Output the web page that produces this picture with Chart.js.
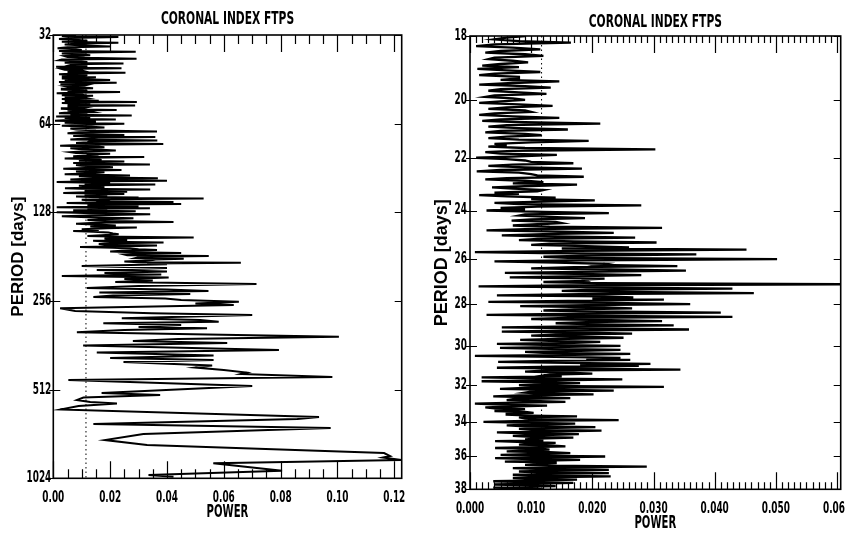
<!DOCTYPE html>
<html><head><meta charset="utf-8">
<script src="https://cdn.jsdelivr.net/npm/chart.js@4.4.1/dist/chart.umd.min.js"></script>
<style>
html,body{margin:0;padding:0;background:#fff;}
#wrap{position:relative;width:845px;height:538px;overflow:hidden;background:#fff;}
.box{position:absolute;top:0;height:538px;}
#b1{left:0;width:420px;} #b2{left:420px;width:425px;}
</style></head><body>
<div id="wrap"><div class="box" id="b1"><canvas id="c1"></canvas></div><div class="box" id="b2"><canvas id="c2"></canvas></div></div>
<script>
const chartTitle = 'CORONAL INDEX FTPS';
const xTitle = 'POWER';
const yTitle = 'PERIOD [days]';

const leftPeriodTicks = [32, 64, 128, 256, 512, 1024];
const leftPowerTicks = [0, 0.02, 0.04, 0.06, 0.08, 0.10, 0.12];
const leftPowerTickLabels = ['0.00', '0.02', '0.04', '0.06', '0.08', '0.10', '0.12'];
const rightPeriodTicks = [18, 20, 22, 24, 26, 28, 30, 32, 34, 36, 38];
const rightPowerTicks = [0, 0.01, 0.02, 0.03, 0.04, 0.05, 0.06];
const rightPowerTickLabels = ['0.000', '0.010', '0.020', '0.030', '0.040', '0.050', '0.060'];

const leftThreshold = 0.0115;
const rightThreshold = 0.0117;

const leftPeriods = [
 32,32.25,32.5,32.75,33,33.25,33.5,33.75,34,34.25,34.5,34.75,35,35.25,35.5,35.75,36,36.25,36.5,36.75,37,37.25,37.5,37.75,38,38.25,38.5,38.75,39,39.25,39.5,39.75,
 40,40.25,40.5,40.75,41,41.25,41.5,41.75,42,42.25,42.5,42.75,43,43.25,43.5,43.75,44,44.25,44.5,44.75,45,45.25,45.5,45.75,46,46.25,46.5,46.75,47,47.25,47.5,47.75,
 48,48.25,48.5,48.75,49,49.25,49.5,49.75,50,50.25,50.5,50.75,51,51.25,51.5,51.75,52,52.25,52.5,52.75,53,53.25,53.5,53.75,54,54.25,54.5,54.75,55,55.25,55.5,55.75,
 56,56.25,56.5,56.75,57,57.25,57.5,57.75,58,58.25,58.5,58.75,59,59.25,59.5,59.75,60,60.25,60.5,60.75,61,61.25,61.5,61.75,62,62.25,62.5,62.75,63,63.25,63.5,63.75,64,
 64.5,65,65.5,66,66.5,67,67.5,68,68.5,69,69.5,70,70.5,71,71.5,72,72.5,73,73.5,74,74.5,75,75.5,76,76.5,77,77.5,78,78.5,79,79.5,80,
 80.5,81,81.5,82,82.5,83,83.5,84,84.5,85,85.5,86,86.5,87,87.5,88,88.5,89,89.5,90,90.5,91,91.5,92,92.5,93,93.5,94,94.5,95,95.5,96,
 96.5,97,97.5,98,98.5,99,99.5,100,100.5,101,101.5,102,102.5,103,103.5,104,104.5,105,105.5,106,106.5,107,107.5,108,108.5,109,109.5,110,110.5,111,111.5,112,
 112.5,113,113.5,114,114.5,115,115.5,116,116.5,117,117.5,118,118.5,119,119.5,120,120.5,121,121.5,122,122.5,123,123.5,124,124.5,125,125.5,126,126.5,127,127.5,128,
 129,130,131,132,133,134,135,136,137,138,139,140,141,142,143,144,145,146,147,148,149,150,151,152,153,154,155,156,157,158,159,160,
 161,162,163,164,165,166,167,168,169,170,171,172,173,174,175,176,177,178,179,180,181,182,183,184,185,186,187,188,189,190,191,192,
 194.8,197.9,201.0,203.3,205.7,208.2,210.6,213.1,215.6,218.2,220.7,224.2,227.7,231.3,234.0,236.8,239.6,242.4,245.3,248.2,251.1,254.1,257.5,261.0,264.2,271.1,276.9,282.0,285.7,293.2,297.1,301.1,304.9,309.0,313.8,317.0,321.2,327.1,338.6,344.7,350.1,355.6,362.7,375.6,383.0,392.1,399.8,406.1,412.5,424.0,430.7,439.2,447.9,453.2,464.0,474.9,497.8,525.8,534.0,544.6,555.4,564.1,570.7,582.0,598.2,634.3,644.3,670.0,691.2,724.3,759.3,789.5,840.5,860.4,870.6,887.8,911.0,965.4,998.0,1011.5
];
const leftPower = [
 0.008,0.003,0.0229,0.006,0.002,0.009,0.012,0.003,0.0229,0.007,0.004,0.011,0.020,0.005,0.0015,0.008,0.010,0.002,0.029,0.006,0.003,0.010,0.013,0.004,0.005,0.011,0.0293,0.003,0.002,0.008,0.012,0.004,
 0.0247,0.007,0.006,0.012,0.001,0.006,0.024,0.003,0.004,0.010,0.011,0.005,0.0254,0.008,0.002,0.012,0.009,0.003,0.015,0.006,0.003,0.011,0.020,0.004,0.007,0.002,0.0223,0.008,0.0025,0.012,0.011,0.004,
 0.005,0.010,0.014,0.003,0.003,0.009,0.012,0.005,0.0235,0.007,0.0012,0.009,0.010,0.003,0.014,0.006,0.004,0.011,0.012,0.003,0.006,0.010,0.016,0.004,0.0294,0.008,0.003,0.011,0.013,0.005,0.0288,0.007,
 0.005,0.012,0.011,0.003,0.003,0.009,0.0223,0.005,0.007,0.013,0.014,0.004,0.002,0.010,0.012,0.006,0.0276,0.008,0.001,0.011,0.013,0.004,0.008,0.012,0.022,0.005,0.0006,0.010,0.015,0.006,0.004,0.012,0.025,
 0.010,0.003,0.012,0.018,0.006,0.008,0.015,0.0365,0.009,0.005,0.014,0.025,0.007,0.0359,0.016,0.010,0.006,0.0366,0.013,0.012,0.008,0.0387,0.011,0.0024,0.015,0.018,0.006,0.009,0.017,0.022,0.010,0.006,
 0.008,0.020,0.013,0.014,0.007,0.032,0.012,0.004,0.015,0.017,0.009,0.025,0.014,0.007,0.016,0.034,0.008,0.010,0.017,0.021,0.011,0.0035,0.013,0.024,0.010,0.008,0.018,0.016,0.012,0.004,0.015,0.027,
 0.009,0.012,0.018,0.0368,0.012,0.006,0.015,0.040,0.010,0.0012,0.014,0.020,0.011,0.0359,0.016,0.009,0.012,0.018,0.015,0.0041,0.010,0.0341,0.018,0.011,0.014,0.026,0.012,0.0035,0.016,0.025,0.011,0.014,
 0.019,0.008,0.013,0.030,0.016,0.0529,0.018,0.010,0.012,0.020,0.015,0.0423,0.019,0.0047,0.013,0.045,0.016,0.012,0.020,0.030,0.014,0.0012,0.017,0.034,0.012,0.016,0.019,0.007,0.015,0.029,0.018,0.0012,
 0.014,0.0341,0.016,0.003,0.012,0.0282,0.018,0.012,0.020,0.0423,0.015,0.008,0.017,0.022,0.013,0.0294,0.019,0.010,0.016,0.007,0.014,0.0194,0.021,0.023,0.017,0.012,0.024,0.0494,0.018,0.020,0.026,0.014,
 0.020,0.0388,0.022,0.016,0.018,0.0365,0.027,0.0094,0.021,0.027,0.030,0.0365,0.024,0.020,0.028,0.045,0.032,0.025,0.026,0.0547,0.034,0.030,0.029,0.0459,0.036,0.035,0.031,0.025,0.030,0.066,0.033,0.040,
 0.010,0.040,0.0153,0.040,0.018,0.038,0.003,0.0406,0.025,0.035,0.0218,0.0715,0.030,0.0118,0.040,0.0546,0.0162,0.0482,0.021,0.0141,0.0394,0.045,0.0653,0.050,0.0635,0.0024,0.0077,0.0347,0.070,0.0241,0.0517,0.0582,0.0176,0.045,0.030,0.0541,0.025,0.0083,0.1005,0.044,0.028,0.0612,0.0105,0.0794,0.0153,0.0564,0.020,0.0564,0.0247,0.0559,0.050,0.060,0.068,0.066,0.0982,0.0053,0.070,0.017,0.0376,0.0106,0.0083,0.013,0.0224,0.0089,0.0024,0.0935,0.0859,0.0141,0.0976,0.0317,0.0182,0.033,0.1164,0.1185,0.116,0.1225,0.0563,0.0805,0.0335,0.0423
];

const rightPeriods = [
 18,18.05,18.1,18.15,18.2,18.25,18.3,18.35,18.4,18.45,18.5,18.55,18.6,18.65,18.7,18.75,18.8,18.85,18.9,18.95,
 19,19.05,19.1,19.15,19.2,19.25,19.3,19.35,19.4,19.45,19.5,19.55,19.6,19.65,19.7,19.75,19.8,19.85,19.9,19.95,
 20,20.05,20.1,20.15,20.2,20.25,20.3,20.35,20.4,20.45,20.5,20.55,20.6,20.65,20.7,20.75,20.8,20.85,20.9,20.95,
 21,21.05,21.1,21.15,21.2,21.25,21.3,21.35,21.4,21.45,21.5,21.55,21.6,21.65,21.7,21.75,21.8,21.85,21.9,21.95,
 22,22.05,22.1,22.15,22.2,22.25,22.3,22.35,22.4,22.45,22.5,22.55,22.6,22.65,22.7,22.75,22.8,22.85,22.9,22.95,
 23,23.05,23.1,23.15,23.2,23.25,23.3,23.35,23.4,23.45,23.5,23.55,23.6,23.65,23.7,23.75,23.8,23.85,23.9,23.95,
 24,24.05,24.1,24.15,24.2,24.25,24.3,24.35,24.4,24.45,24.5,24.55,24.6,24.65,24.7,24.75,24.8,24.85,24.9,24.95,
 25,25.05,25.1,25.15,25.2,25.25,25.3,25.35,25.4,25.45,25.5,25.55,25.6,25.65,25.7,25.75,25.8,25.85,25.9,25.95,
 26,26.05,26.1,26.15,26.2,26.25,26.3,26.35,26.4,26.45,26.5,26.55,26.6,26.65,26.7,26.75,26.8,26.85,26.9,26.95,
 27,27.05,27.1,27.15,27.2,27.25,27.3,27.35,27.4,27.45,27.5,27.55,27.6,27.65,27.7,27.75,27.8,27.85,27.9,27.95,
 28,28.05,28.1,28.15,28.2,28.25,28.3,28.35,28.4,28.45,28.5,28.55,28.6,28.65,28.7,28.75,28.8,28.85,28.9,28.95,
 29,29.05,29.1,29.15,29.2,29.25,29.3,29.35,29.4,29.45,29.5,29.55,29.6,29.65,29.7,29.75,29.8,29.85,29.9,29.95,
 30,30.05,30.1,30.15,30.2,30.25,30.3,30.35,30.4,30.45,30.5,30.55,30.6,30.65,30.7,30.75,30.8,30.85,30.9,30.95,
 31,31.05,31.1,31.15,31.2,31.25,31.3,31.35,31.4,31.45,31.5,31.55,31.6,31.65,31.7,31.75,31.8,31.85,31.9,31.95,
 32,32.05,32.1,32.15,32.2,32.25,32.3,32.35,32.4,32.45,32.5,32.55,32.6,32.65,32.7,32.75,32.8,32.85,32.9,32.95,
 33,33.05,33.1,33.15,33.2,33.25,33.3,33.35,33.4,33.45,33.5,33.55,33.6,33.65,33.7,33.75,33.8,33.85,33.9,33.95,
 34,34.05,34.1,34.15,34.2,34.25,34.3,34.35,34.4,34.45,34.5,34.55,34.6,34.65,34.7,34.75,34.8,34.85,34.9,34.95,
 35,35.05,35.1,35.15,35.2,35.25,35.3,35.35,35.4,35.45,35.5,35.55,35.6,35.65,35.7,35.75,35.8,35.85,35.9,35.95,
 36,36.05,36.1,36.15,36.2,36.25,36.3,36.35,36.4,36.45,36.5,36.55,36.6,36.65,36.7,36.75,36.8,36.85,36.9,36.95,
 37,37.05,37.1,37.15,37.2,37.25,37.3,37.35,37.4,37.45,37.5,37.55,37.6,37.65,37.7,37.75,37.8,37.85,37.9,37.95,
 38
];
const rightPower = [
 0.009,0.006,0.004,0.008,0.0165,0.004,0.001,0.007,0.0115,0.005,0.0025,0.009,0.012,0.004,0.003,0.007,0.0095,0.005,0.002,0.008,
 0.0012,0.006,0.0115,0.004,0.0015,0.008,0.008,0.005,0.0146,0.007,0.0015,0.009,0.0132,0.005,0.003,0.008,0.0125,0.004,0.0025,0.007,
 0.009,0.005,0.0015,0.008,0.0135,0.006,0.003,0.009,0.010,0.004,0.0015,0.007,0.0146,0.005,0.002,0.009,0.0213,0.006,0.003,0.008,
 0.016,0.005,0.0025,0.009,0.0117,0.006,0.003,0.008,0.0194,0.010,0.004,0.006,0.003,0.009,0.0303,0.007,0.0025,0.005,0.0142,0.008,
 0.001,0.006,0.009,0.010,0.0169,0.007,0.003,0.009,0.0183,0.005,0.0011,0.008,0.010,0.011,0.0186,0.006,0.0025,0.009,0.012,0.007,
 0.0175,0.010,0.0036,0.007,0.012,0.011,0.004,0.008,0.0015,0.006,0.014,0.010,0.0204,0.012,0.004,0.008,0.028,0.011,0.005,0.009,
 0.0027,0.012,0.0227,0.009,0.008,0.013,0.0188,0.010,0.0068,0.014,0.015,0.011,0.007,0.013,0.0314,0.009,0.0027,0.015,0.0235,0.012,
 0.0052,0.014,0.027,0.011,0.008,0.017,0.0305,0.013,0.010,0.019,0.026,0.015,0.0452,0.018,0.0008,0.012,0.037,0.020,0.012,0.016,
 0.0502,0.019,0.004,0.014,0.022,0.021,0.0339,0.017,0.010,0.023,0.0353,0.018,0.0057,0.020,0.028,0.016,0.0065,0.022,0.0186,0.019,
 0.012,0.021,0.062,0.016,0.0014,0.024,0.0429,0.019,0.015,0.025,0.0464,0.018,0.0044,0.022,0.0267,0.020,0.0317,0.016,0.003,0.023,
 0.036,0.019,0.0082,0.022,0.0265,0.017,0.012,0.024,0.041,0.018,0.0027,0.021,0.0429,0.016,0.010,0.023,0.0314,0.019,0.014,0.021,
 0.0333,0.017,0.0052,0.020,0.0358,0.015,0.0052,0.019,0.0265,0.014,0.010,0.018,0.0251,0.016,0.0082,0.013,0.0213,0.017,0.0044,0.012,
 0.0246,0.016,0.0049,0.013,0.0246,0.018,0.009,0.012,0.0262,0.017,0.0008,0.014,0.0246,0.019,0.0262,0.013,0.0046,0.016,0.0295,0.018,
 0.0276,0.014,0.0044,0.017,0.0344,0.012,0.009,0.016,0.020,0.013,0.012,0.015,0.0019,0.011,0.0249,0.014,0.0019,0.010,0.018,0.013,
 0.008,0.012,0.0317,0.009,0.0049,0.013,0.0235,0.010,0.009,0.012,0.0202,0.008,0.0038,0.011,0.0164,0.007,0.006,0.010,0.0156,0.006,
 0.0008,0.005,0.0126,0.008,0.0025,0.004,0.009,0.007,0.004,0.009,0.0104,0.006,0.006,0.010,0.0175,0.008,0.009,0.011,0.0243,0.009,
 0.0022,0.008,0.0172,0.011,0.006,0.009,0.0205,0.012,0.008,0.010,0.0215,0.013,0.0044,0.009,0.0178,0.012,0.007,0.010,0.0169,0.011,
 0.009,0.012,0.0041,0.009,0.014,0.011,0.008,0.013,0.0156,0.010,0.0041,0.012,0.013,0.009,0.006,0.013,0.0164,0.011,0.005,0.010,
 0.0221,0.013,0.0041,0.010,0.018,0.012,0.0057,0.014,0.014,0.011,0.009,0.013,0.0289,0.015,0.007,0.012,0.0227,0.014,0.008,0.011,
 0.0227,0.013,0.007,0.011,0.023,0.014,0.007,0.010,0.0175,0.012,0.0038,0.009,0.0169,0.011,0.004,0.010,0.014,0.008,0.0038,0.010,
 0.012
];

const narrow = "'DejaVu Sans Condensed','DejaVu Sans',sans-serif";
const wide = "'Liberation Sans',Arial,sans-serif";
const textSqueeze = 0.66;
const ink = '#000';

function squeezeText(canvas) {
  const ctx = canvas.getContext('2d');
  const orig = ctx.fillText;
  ctx.fillText = function (text, x, y, maxWidth) {
    if (String(this.font).indexOf('Condensed') >= 0) {
      this.save();
      this.translate(x, y);
      this.scale(textSqueeze, 1);
      orig.call(this, text, 0, 0);
      this.restore();
    } else if (maxWidth !== undefined) {
      orig.call(this, text, x, y, maxWidth);
    } else {
      orig.call(this, text, x, y);
    }
  };
}

const frameTicks = {
  id: 'frameTicks',
  afterDatasetsDraw(chart, args, o) {
    const {ctx, chartArea: a} = chart;
    const xs = chart.scales.x, ys = chart.scales.y;
    ctx.save();
    ctx.strokeStyle = ink;
    ctx.lineWidth = 1.2;
    ctx.beginPath();
    const n = Math.round(o.xMax / o.minorStep);
    for (let i = 0; i <= n; i++) {
      const v = i * o.minorStep;
      const r = v / o.majorStep;
      const isMajor = Math.abs(r - Math.round(r)) < 1e-6;
      const len = isMajor ? o.majorLen : o.minorLen;
      const px = Math.round(xs.getPixelForValue(v)) + 0.5;
      if (px > a.right + 0.5) continue;
      ctx.moveTo(px, a.bottom); ctx.lineTo(px, a.bottom - len);
      ctx.moveTo(px, a.top); ctx.lineTo(px, a.top + len);
    }
    for (const v of o.yTicks) {
      const py = Math.round(ys.getPixelForValue(v)) + 0.5;
      ctx.moveTo(a.left - 4, py); ctx.lineTo(a.left + 7, py);
      ctx.moveTo(a.right, py); ctx.lineTo(a.right - 7, py);
    }
    ctx.stroke();
    ctx.lineWidth = 1.6;
    ctx.strokeRect(a.left, a.top, a.right - a.left, a.bottom - a.top);
    ctx.restore();
  }
};

function makePanel(canvasId, cfg) {
  const canvas = document.getElementById(canvasId);
  squeezeText(canvas);
  const pts = cfg.periods.map((p, i) => ({x: cfg.power[i], y: p}));
  return new Chart(canvas, {
    type: 'scatter',
    data: {
      datasets: [
        {data: pts, showLine: true, borderColor: ink, borderWidth: cfg.lineWidth, pointRadius: 0, tension: 0, order: 1},
        {data: [{x: cfg.threshold, y: cfg.yMin}, {x: cfg.threshold, y: cfg.yMax}], showLine: true,
         borderColor: ink, borderWidth: 1, borderDash: [1.5, 3], pointRadius: 0, order: 2}
      ]
    },
    options: {
      responsive: true, maintainAspectRatio: false, animation: false, devicePixelRatio: 1,
      layout: {padding: cfg.layoutPad},
      plugins: {
        legend: {display: false}, tooltip: {enabled: false},
        title: {display: true, text: chartTitle, fullSize: false, color: ink,
                font: {family: narrow, size: 18, weight: 'bold'}, padding: cfg.titlePad},
        frameTicks: cfg.tickOpts
      },
      scales: {
        x: {
          type: 'linear', position: 'bottom', min: 0, max: cfg.xMax,
          grid: {display: false, drawTicks: false}, border: {display: false},
          ticks: {autoSkip: false, maxRotation: 0, minRotation: 0, padding: cfg.xTickPad, color: ink,
                  font: {family: narrow, size: 15, weight: 'bold'},
                  callback: (v, i) => cfg.xLabels[i]},
          title: {display: true, text: xTitle, color: ink, font: {family: narrow, size: 17, weight: 'bold'},
                  padding: {top: 0, bottom: cfg.xTitlePadBottom}},
          afterBuildTicks: s => { s.ticks = cfg.xTicks.map(v => ({value: v})); },
          afterFit: s => { s.height = cfg.xHeight; s.paddingLeft = 0; s.paddingRight = 0; }
        },
        y: {
          type: 'logarithmic', position: 'left', reverse: true, min: cfg.yMin, max: cfg.yMax,
          grid: {display: false, drawTicks: false}, border: {display: false},
          ticks: {autoSkip: false, padding: cfg.yTickPad, color: ink,
                  font: {family: narrow, size: 15, weight: 'bold'},
                  callback: v => String(v)},
          title: {display: true, text: yTitle, color: ink, font: {family: wide, size: cfg.yTitleSize, weight: 'bold'},
                  padding: {top: cfg.yTitlePadTop, bottom: 0}},
          afterBuildTicks: s => { s.ticks = cfg.yTicks.map(v => ({value: v})); },
          afterFit: s => { s.width = cfg.yWidth; s.paddingTop = 0; s.paddingBottom = 0; }
        }
      }
    },
    plugins: [frameTicks]
  });
}

makePanel('c1', {
  periods: leftPeriods, power: leftPower, threshold: leftThreshold, lineWidth: 2,
  yMin: 32, yMax: 1024, xMax: 0.1226,
  xTicks: leftPowerTicks, xLabels: leftPowerTickLabels, yTicks: leftPeriodTicks,
  layoutPad: {left: 0, right: 18.3, top: 0, bottom: 0},
  titlePad: {top: 9, bottom: 4.4},
  xTickPad: 11, xTitlePadBottom: 14.8, xHeight: 59.7,
  yTickPad: 2, yTitleSize: 17, yTitlePadTop: 7.8, yWidth: 53.3,
  tickOpts: {xMax: 0.1226, minorStep: 0.005, majorStep: 0.02, minorLen: 9, majorLen: 17, yTicks: leftPeriodTicks}
});

makePanel('c2', {
  periods: rightPeriods, power: rightPower, threshold: rightThreshold, lineWidth: 2.3,
  yMin: 18, yMax: 38, xMax: 0.0606,
  xTicks: rightPowerTicks, xLabels: rightPowerTickLabels, yTicks: rightPeriodTicks,
  layoutPad: {left: 0, right: 4.3, top: 1, bottom: 0},
  titlePad: {top: 11, bottom: 2.4},
  xTickPad: 10.5, xTitlePadBottom: 3.8, xHeight: 48.7,
  yTickPad: 3, yTitleSize: 18, yTitlePadTop: 11.2, yWidth: 50,
  tickOpts: {xMax: 0.0606, minorStep: 0.001, majorStep: 0.01, minorLen: 7, majorLen: 17, yTicks: rightPeriodTicks}
});
</script>
</body></html>
